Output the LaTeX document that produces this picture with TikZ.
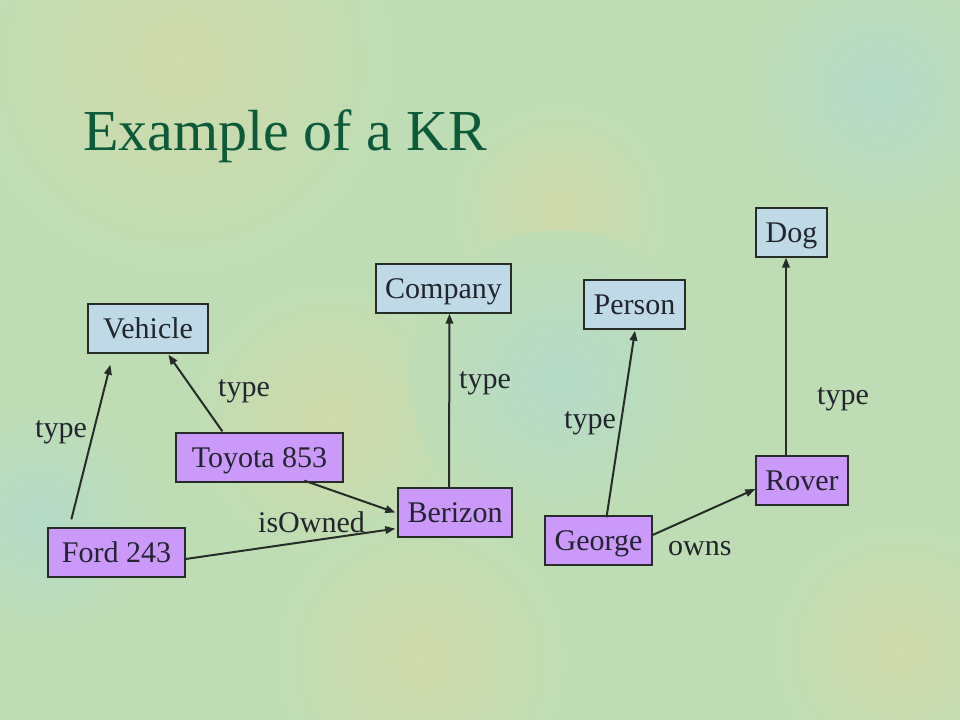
\documentclass[tikz,border=0pt]{standalone}
\usepackage{fontspec}
\setmainfont{Liberation Serif}
\usetikzlibrary{arrows.meta,calc}
\definecolor{bgc}{HTML}{BFDDB4}
\definecolor{bgy}{HTML}{D0DAAA}
\definecolor{bgb}{HTML}{B4DAC8}
\definecolor{titlec}{HTML}{0D5A3A}
\definecolor{boxblue}{HTML}{BFDAE6}
\definecolor{boxviolet}{HTML}{CB99FA}
\definecolor{inkc}{HTML}{22242E}
\definecolor{linec}{HTML}{262C28}
\tikzset{
  kbox/.style={draw=linec, line width=1.3bp, rectangle, inner sep=0pt, minimum height=49bp,
    text=inkc, font=\fontsize{30bp}{36bp}\selectfont, text height=20bp, text depth=0bp},
  classbox/.style={kbox, fill=boxblue},
  instbox/.style={kbox, fill=boxviolet},
  rel/.style={draw=linec, line width=2bp, -{Triangle[length=10bp,width=7.5bp]}},
  lbl/.style={inner sep=0pt, anchor=base west, text=inkc, font=\fontsize{30bp}{36bp}\selectfont},
}
\begin{document}
\begin{tikzpicture}[x=1bp, y=-1bp]
\useasboundingbox (0,0) rectangle (960,720);
% background
\fill[bgc] (0,0) rectangle (960,720);
\begin{scope}
\clip (0,0) rectangle (960,720);
\shade[inner color=bgy, outer color=bgc] (180,60) circle (220);
\shade[inner color=bgy, outer color=bgc] (330,420) circle (140);
\shade[inner color=bgy, outer color=bgc] (560,210) circle (110);
\shade[inner color=bgb, outer color=bgc] (560,380) circle (150);
\shade[inner color=bgb, outer color=bgc] (40,520) circle (120);
\shade[inner color=bgy, outer color=bgc] (900,650) circle (130);
\shade[inner color=bgb, outer color=bgc] (880,90) circle (140);
\shade[inner color=bgy, outer color=bgc] (420,660) circle (150);
\end{scope}
% title
\node[inner sep=0pt, anchor=base west, text=titlec, font=\fontsize{58bp}{64bp}\selectfont] (title) at (83,151) {Example of a KR};
% nodes
\node[classbox, minimum width=120bp] (vehicle) at (148,328.5) {Vehicle};
\node[instbox, minimum width=167bp] (toyota) at (259.5,457.5) {Toyota 853};
\node[instbox, minimum width=137bp] (ford) at (116.5,552.5) {Ford 243};
\node[classbox, minimum width=135bp] (company) at (443.5,288.5) {Company};
\node[classbox, minimum width=101bp] (person) at (634.5,304.5) {Person};
\node[classbox, minimum width=71bp] (dog) at (791.5,232.5) {Dog};
\node[instbox, minimum width=114bp] (berizon) at (455,512.5) {Berizon};
\node[instbox, minimum width=107bp] (george) at (598.5,540.5) {George};
\node[instbox, minimum width=92bp] (rover) at (802,480.5) {Rover};
% connectors
\draw[rel] ($(ford.north west)+(24,-8)$) -- ($(vehicle.south west)+(23,11)$);
\draw[rel] ($(toyota.north west)+(47,-1)$) -- ($(vehicle.south west)+(81,1)$);
\draw[rel] ($(toyota.south west)+(129,-2)$) -- ($(berizon.west)+(-2,0)$);
\draw[rel] ($(ford.east)+(0,6.5)$) -- ($(berizon.south west)+(-2,-9)$);
\draw[rel] ($(berizon.north)+(-6,0)$) -- ($(company.south)+(6,0)$);
\draw[rel] ($(george.north)+(8,2)$) -- ($(person.south)+(0.5,1)$);
\draw[rel] ($(rover.north)+(-16,0)$) -- ($(dog.south)+(-5.5,0)$);
\draw[rel] ($(george.east)+(0,-5.5)$) -- ($(rover.west)+(0,8.5)$);
% labels
\node[lbl] (l1) at (35,437) {type};
\node[lbl] (l2) at (218,396) {type};
\node[lbl] (l3) at (258,532) {isOwned};
\node[lbl] (l4) at (459,388) {type};
\node[lbl] (l5) at (564,428) {type};
\node[lbl] (l6) at (817,404) {type};
\node[lbl] (l7) at (668,555) {owns};
\end{tikzpicture}
\end{document}
